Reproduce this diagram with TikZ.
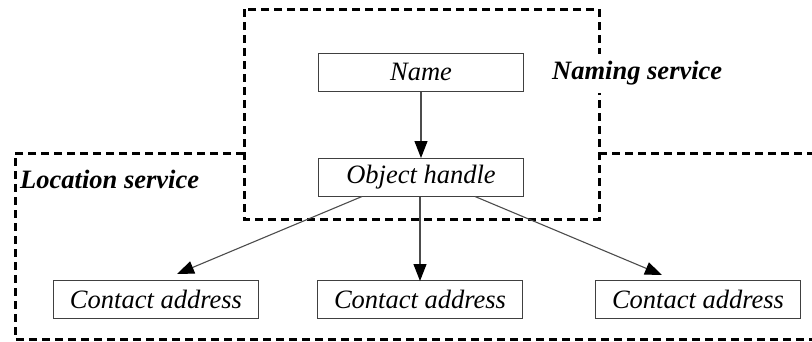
\documentclass[tikz,border=0pt]{standalone}
\usepackage{fontspec}
\setmainfont{Liberation Serif}
\usetikzlibrary{arrows.meta}
\begin{document}
\begin{tikzpicture}[x=1pt,y=-1pt,
  box/.style={draw=black!75, line width=1pt, minimum width=205pt, minimum height=38pt,
              inner sep=0pt, font=\fontsize{26.5}{30}\selectfont\itshape},
  lbl/.style={inner sep=0pt, anchor=west, fill=white, minimum height=39pt,
              font=\fontsize{26.5}{30}\selectfont\bfseries\itshape},
  conn/.style={draw=black!70, line width=1.1pt,
               -{Triangle[length=17pt,width=13pt,color=black,fill=black]}},
  region/.style={draw=black, line width=3pt, dash pattern=on 8pt off 5pt}]
\useasboundingbox (0,0) rectangle (812,341);

% service regions
\draw[region] (244,9) rectangle (599,219);
\draw[region] (244,153) -- (15,153) -- (15,339) -- (812,339);
\draw[region] (599,153) -- (812,153);

% labels (white backing hides the dashed edge behind the text)
\node[lbl] (nsvc) at (552,73) {Naming service};
\node[lbl, minimum height=30pt] (lsvc) at (20,179) {Location service};

% nodes
\node[box] (name) at (421,72) {Name};
\node[box] (oh) at (421,177.5) {Object handle};
\node[box] (ca1) at (156,299.5) {Contact address};
\node[box] (ca2) at (420,299.5) {Contact address};
\node[box] (ca3) at (698,299.5) {Contact address};

% connector end points
\coordinate (s1) at (362,196.5);
\coordinate (s3) at (475,196.5);
\coordinate (t1) at (177,274);
\coordinate (t3) at (662,275);

\draw[conn] (name.south) -- (oh.north);
\draw[conn] (s1) -- (t1);
\draw[conn] (oh.south -| ca2.north) -- ([yshift=-1pt]ca2.north);
\draw[conn] (s3) -- (t3);
\end{tikzpicture}
\end{document}
